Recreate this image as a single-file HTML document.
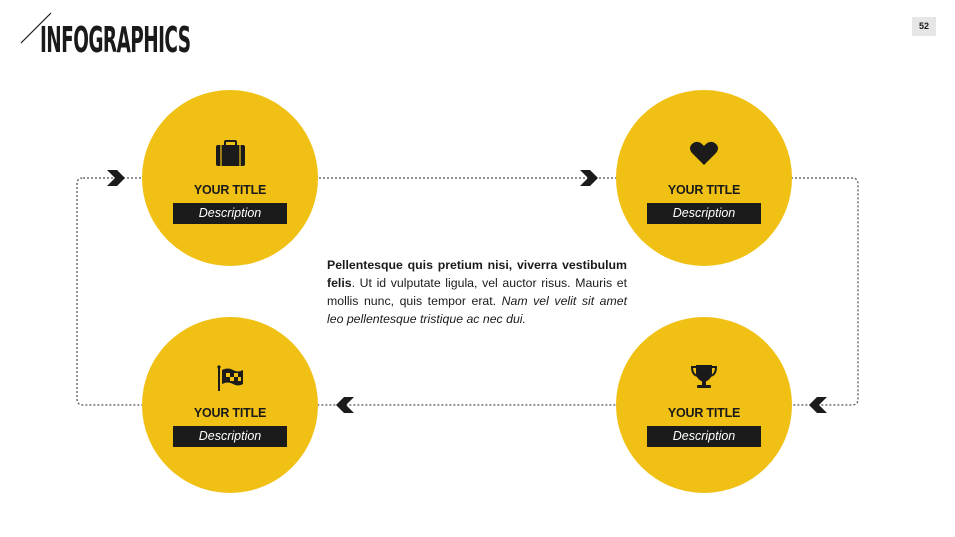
<!DOCTYPE html>
<html><head><meta charset="utf-8"><style>
*{margin:0;padding:0}
body{width:955px;height:537px;background:#fff;position:relative;overflow:hidden;font-family:"Liberation Sans",sans-serif;color:#1a1a1a}
.abs{position:absolute}
.t{position:absolute;width:176px;text-align:center;font-weight:bold;font-size:12.5px;letter-spacing:-0.2px}
.d{position:absolute;width:114px;height:21px;background:#1b1b1b;color:#fff;font-style:italic;font-size:12.5px;line-height:21px;text-align:center}
</style></head><body>
<svg class="abs" style="left:0;top:0" width="955" height="537">
<line x1="21" y1="43" x2="51" y2="13" stroke="#1a1a1a" stroke-width="1.2"/>
<path d="M83 178 H852 Q858 178 858 184 V399 Q858 405 852 405 H83 Q77 405 77 399 V184 Q77 178 83 178Z" fill="none" stroke="#555" stroke-width="1.3" stroke-dasharray="2,2"/>
<circle cx="230" cy="178" r="88" fill="#f0c014"/>
<circle cx="704" cy="178" r="88" fill="#f0c014"/>
<circle cx="230" cy="405" r="88" fill="#f0c014"/>
<circle cx="704" cy="405" r="88" fill="#f0c014"/>
<path d="M107 170 h10 l8 8 l-8 8 h-10 l8 -8z" fill="#1b1b1b"/>
<path d="M580 170 h10 l8 8 l-8 8 h-10 l8 -8z" fill="#1b1b1b"/>
<path d="M354 397 h-10 l-8 8 l8 8 h10 l-8 -8z" fill="#1b1b1b"/>
<path d="M827 397 h-10 l-8 8 l8 8 h10 l-8 -8z" fill="#1b1b1b"/>
<rect x="216" y="145" width="29" height="21" rx="2" fill="#1b1b1b"/>
<rect x="225" y="141" width="11" height="6" rx="1" fill="none" stroke="#1b1b1b" stroke-width="2"/>
<line x1="221" y1="145" x2="221" y2="166" stroke="#f0c014" stroke-width="1.2"/>
<line x1="240" y1="145" x2="240" y2="166" stroke="#f0c014" stroke-width="1.2"/>
<path d="M704 165 L692 153 Q688 148 692 144 Q698 139 704 146 Q710 139 716 144 Q720 148 716 153Z" fill="#1b1b1b"/>
<line x1="219" y1="368" x2="219" y2="391" stroke="#1b1b1b" stroke-width="2"/>
<circle cx="219" cy="367" r="1.6" fill="#1b1b1b"/>
<path d="M222 370 Q228 367 233 370 Q238 373 243 370 V384 Q238 387 233 384 Q228 381 222 384Z" fill="#1b1b1b"/>
<rect x="226" y="373" width="4" height="4" fill="#f0c014"/><rect x="234" y="373" width="4" height="4" fill="#f0c014"/>
<rect x="230" y="377" width="4" height="4" fill="#f0c014"/><rect x="238" y="377" width="3" height="4" fill="#f0c014"/>
<path d="M696 365 H712 V372 Q712 380 704 382 Q696 380 696 372Z" fill="#1b1b1b"/>
<path d="M696 367 H692 Q692 375 698 376 M712 367 H716 Q716 375 710 376" fill="none" stroke="#1b1b1b" stroke-width="2"/>
<rect x="702" y="381" width="4" height="5" fill="#1b1b1b"/>
<rect x="697" y="385" width="14" height="3" rx="1" fill="#1b1b1b"/>
</svg>
<div class="abs" style="left:40px;top:20px;font-family:'DejaVu Sans Condensed','Liberation Sans Narrow',sans-serif;font-weight:bold;font-size:36px;letter-spacing:-1px;transform:scaleX(0.57);transform-origin:left;line-height:42px">INFOGRAPHICS</div>
<div class="abs" style="left:912px;top:17px;width:24px;height:19px;background:#e6e6e6;font-size:9px;font-weight:bold;text-align:center;line-height:19px">52</div>
<div class="t" style="left:142px;top:183px">YOUR TITLE</div><div class="d" style="left:173px;top:203px">Description</div>
<div class="t" style="left:616px;top:183px">YOUR TITLE</div><div class="d" style="left:647px;top:203px">Description</div>
<div class="t" style="left:142px;top:406px">YOUR TITLE</div><div class="d" style="left:173px;top:426px">Description</div>
<div class="t" style="left:616px;top:406px">YOUR TITLE</div><div class="d" style="left:647px;top:426px">Description</div>
<div class="abs" style="left:327px;top:256px;width:300px;font-size:12.3px;line-height:18px;text-align:justify"><b>Pellentesque quis pretium nisi, viverra vestibulum felis</b>. Ut id vulputate ligula, vel auctor risus. Mauris et mollis nunc, quis tempor erat. <i>Nam vel velit sit amet leo pellentesque tristique ac nec dui.</i></div>
</body></html>
